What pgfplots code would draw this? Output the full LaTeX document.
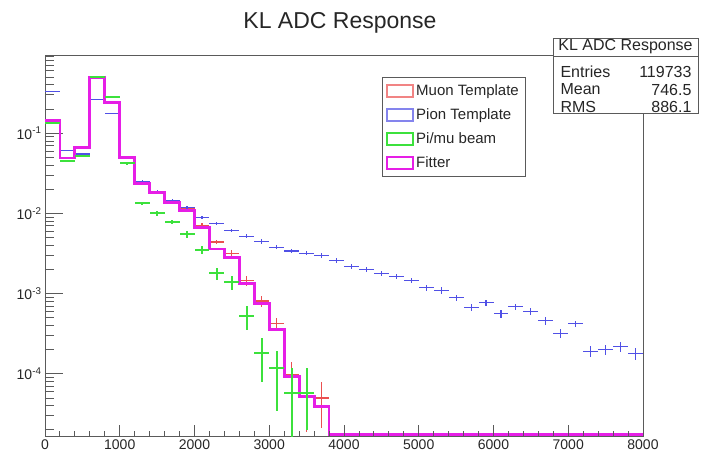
\documentclass[border=0pt]{standalone}
\usepackage{fontspec}
\setmainfont{Liberation Sans}
\usepackage{pgfplots}
\usepackage{pgfplotstable}
\pgfplotsset{compat=1.18}

\definecolor{muon}{RGB}{235,80,80}
\definecolor{pion}{RGB}{80,80,230}
\definecolor{beam}{RGB}{60,225,60}
\definecolor{fitter}{RGB}{230,30,230}
\definecolor{frame}{RGB}{90,90,90}

\pgfplotstableread{
x y
0 0.145
200 0.049
400 0.067
600 0.49
800 0.24
1000 0.05
1200 0.0237
1400 0.0183
1600 0.0137
1800 0.011
2000 0.0067
2200 0.0036
2400 0.0028
2600 0.00133
2800 0.00075
3000 0.00036
3200 0.000092
3400 0.000052
3600 0.000039
3800 0.0000175
8000 0.0000175
}\fitter

\pgfplotstableread{
x y eyp eym
100 0.147 0.002 0.002
300 0.049 0.001 0.001
500 0.067 0.0012 0.0012
700 0.49 0.005 0.005
900 0.24 0.003 0.003
1100 0.05 0.001 0.001
1300 0.024 0.0007 0.0007
1500 0.0185 0.0006 0.0006
1700 0.014 0.0005 0.0005
1900 0.0115 0.0005 0.0005
2100 0.0071 0.0004 0.0004
2300 0.0044 0.0003 0.0003
2500 0.0032 0.0003 0.0003
2700 0.00145 0.0002 0.0002
2900 0.00081 0.00012 0.00012
3100 0.00042 0.00008 0.00008
3300 0.000097 0.000043 0.00003
3500 0.000051 0.00006 0.000032
3700 0.00005 0.000029 0.000029
}\muon

\pgfplotstableread{
x y e
100 0.335 0.004
300 0.061 0.0015
500 0.055 0.0014
700 0.266 0.003
900 0.178 0.0025
1100 0.051 0.0013
1300 0.025 0.0008
1500 0.019 0.0007
1700 0.0145 0.0006
1900 0.012 0.0005
2100 0.0089 0.0004
2300 0.0075 0.0004
2500 0.0061 0.0003
2700 0.0052 0.0003
2900 0.0045 0.0003
3100 0.0038 0.0002
3300 0.0034 0.0002
3500 0.0032 0.0002
3700 0.0030 0.0002
3900 0.0026 0.0002
4100 0.0022 0.00015
4300 0.0020 0.00014
4500 0.0018 0.00013
4700 0.00163 0.00012
4900 0.00145 0.00011
5100 0.00119 0.0001
5300 0.0011 0.0001
5500 0.00089 0.00008
5700 0.00067 0.00007
5900 0.00077 0.00007
6100 0.00056 0.00006
6300 0.00069 0.00006
6500 0.00060 0.00006
6700 0.00046 0.00005
6900 0.00032 0.00004
7100 0.00042 0.00004
7300 0.00019 0.00003
7500 0.00020 0.00003
7700 0.00022 0.00003
7900 0.00018 0.00003
}\pion

\pgfplotstableread{
x y eyp eym
100 0.135 0.003 0.003
300 0.045 0.0015 0.0015
500 0.052 0.0015 0.0015
700 0.50 0.008 0.008
900 0.28 0.006 0.006
1100 0.042 0.0015 0.0015
1300 0.0133 0.0007 0.0007
1500 0.010 0.0006 0.0006
1700 0.0078 0.0005 0.0005
1900 0.0055 0.0005 0.0005
2100 0.0035 0.0004 0.0004
2300 0.0018 0.0003 0.0003
2500 0.0014 0.00028 0.00028
2700 0.00053 0.00018 0.00018
2900 0.00018 0.0001 0.0001
3100 0.000119 0.000075 0.000085
3300 0.000058 0.00006 0.000057
3500 0.000058 0.00006 0.000038
}\beam

\begin{document}
\begin{tikzpicture}[x=1pt,y=1pt]
\useasboundingbox (0,0) rectangle (705,455);
\begin{axis}[
  at={(45pt,19pt)}, anchor=south west,
  scale only axis, width=598pt, height=381pt,
  xmin=0, xmax=8000,
  ymode=log, ymin=1.68e-5, ymax=0.944,
  xtick=\empty,
  ytick={1e-4,1e-3,1e-2,1e-1},
  yticklabels={10\textsuperscript{-4},10\textsuperscript{-3},10\textsuperscript{-2},10\textsuperscript{-1}},
  minor ytick={2e-5,3e-5,4e-5,5e-5,6e-5,7e-5,8e-5,9e-5,
               2e-4,3e-4,4e-4,5e-4,6e-4,7e-4,8e-4,9e-4,
               2e-3,3e-3,4e-3,5e-3,6e-3,7e-3,8e-3,9e-3,
               2e-2,3e-2,4e-2,5e-2,6e-2,7e-2,8e-2,9e-2,
               0.2,0.3,0.4,0.5,0.6,0.7,0.8,0.9},
  ytick pos=left, tick align=inside,
  major tick length=18pt, minor tick length=9pt,
  axis line style={draw=frame, line width=0.9pt},
  tick style={draw=frame, line width=0.9pt},
  y tick label style={font=\fontsize{14}{14}\selectfont, text=black!85},
  legend image code/.code={\draw[#1, fill=white, line width=1.3pt] (0pt,-6pt) rectangle (26pt,6pt);},
  legend cell align=left,
  legend style={at={(rel axis cs:0.5635,0.942)}, anchor=north west,
    draw=frame, line width=0.9pt, inner sep=4pt, row sep=5pt,
    font=\fontsize{15}{15}\selectfont,
    nodes={inner sep=2.5pt, text height=11pt, text depth=3pt, text=black!85}},
]
\addplot[draw=none, mark=none, forget plot,
  error bars/.cd, x dir=both, x fixed=100, y dir=both, y explicit, error mark=none,
  error bar style={draw=muon, line width=1.1pt, solid}]
  table[x=x, y=y, y error plus=eyp, y error minus=eym] {\muon};
\addplot[draw=none, mark=none, forget plot,
  error bars/.cd, x dir=both, x fixed=100, y dir=both, y explicit, error mark=none,
  error bar style={draw=pion, line width=1.1pt, solid}]
  table[x=x, y=y, y error=e] {\pion};
\addplot[const plot mark left, draw=fitter, line width=2.8pt, mark=none, forget plot] table[x=x, y=y] {\fitter};
\addplot[draw=none, mark=none, forget plot,
  error bars/.cd, x dir=both, x fixed=100, y dir=both, y explicit, error mark=none,
  error bar style={draw=beam, line width=2pt, solid}]
  table[x=x, y=y, y error plus=eyp, y error minus=eym] {\beam};
\addlegendimage{draw=muon!70!white}
\addlegendentry{Muon Template}
\addlegendimage{draw=pion!70!white}
\addlegendentry{Pion Template}
\addlegendimage{draw=beam}
\addlegendentry{Pi/mu beam}
\addlegendimage{draw=fitter}
\addlegendentry{Fitter}
\end{axis}
\begin{axis}[
  at={(45pt,19pt)}, anchor=south west,
  scale only axis, width=598pt, height=381pt,
  xmin=0, xmax=8000,
  ymode=log, ymin=1.68e-5, ymax=0.944,
  ytick=\empty,
  xtick={0,1000,...,8000}, minor x tick num=4,
  xtick pos=bottom, tick align=inside,
  major tick length=11pt, minor tick length=5.5pt,
  axis line style={draw=none},
  tick style={draw=frame, line width=0.9pt},
  x tick label style={font=\fontsize{14}{14}\selectfont, text=black!85,
    /pgf/number format/1000 sep={}, /pgf/number format/assume math mode=true},
]
\end{axis}
\node[font=\fontsize{23}{23}\selectfont, text=black!85] at (340,432) {KL ADC Response};
\draw[fill=white, draw=frame, line width=0.9pt] (553,342) rectangle (698,417);
\draw[frame, line width=0.9pt] (553,399) -- (698,399);
\node[font=\fontsize{16}{16}\selectfont, text=black!85] at (625.5,408) {KL ADC Response};
\begin{scope}[every node/.style={font=\fontsize{16}{16}\selectfont, text=black!85}]
\node[anchor=west] at (557,383) {Entries};
\node[anchor=east] at (695,383) {119733};
\node[anchor=west] at (557,365.5) {Mean};
\node[anchor=east] at (695,365.5) {746.5};
\node[anchor=west] at (557,348.5) {RMS};
\node[anchor=east] at (695,348.5) {886.1};
\end{scope}
\end{tikzpicture}
\end{document}
